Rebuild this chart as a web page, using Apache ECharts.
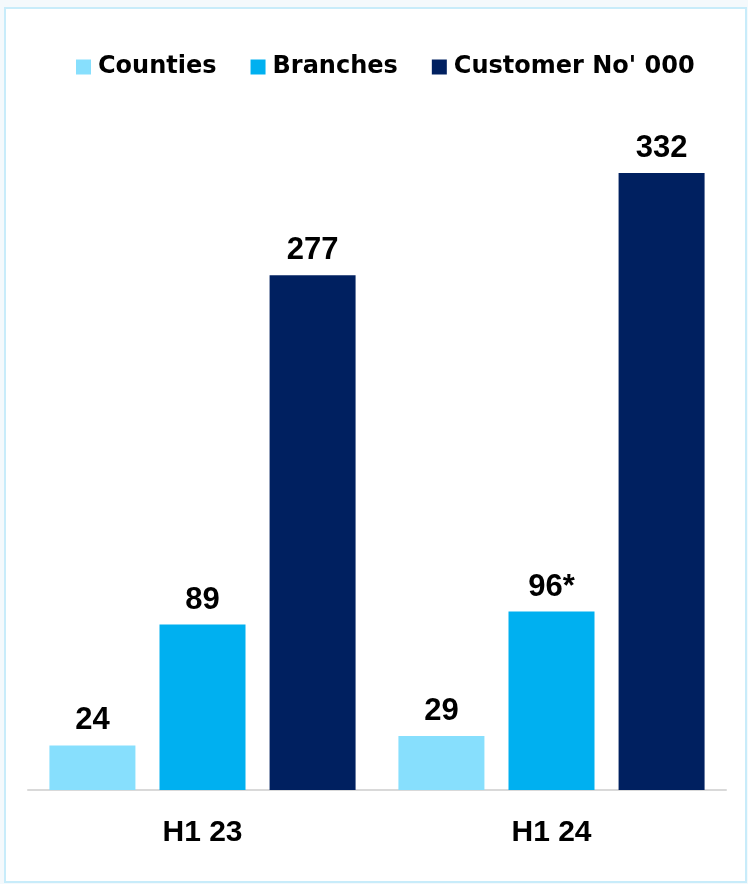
<!DOCTYPE html>
<html>
<head>
<meta charset="utf-8">
<script src="https://cdn.jsdelivr.net/npm/echarts@6/dist/echarts.min.js"></script>
<style>
  html, body { margin: 0; padding: 0; background: #f4f9fc; }
  #chart { width: 748px; height: 884px; }
</style>
</head>
<body>
<div id="chart"></div>
<script>
// Half-year periods
const periods = ['H1 23', 'H1 24'];

// Footprint and customer figures per period
const counties = [24, 29];
const branches = [89, 96];
const customers = [277, 332];

// Footnote markers appended to the branch figures
const branchNotes = ['', '*'];

const seriesNames = ['Counties', 'Branches', "Customer No' 000"];
const seriesColors = ['#87dffd', '#00b0f0', '#002060'];

const labelStyle = {
  show: true,
  position: 'top',
  distance: 9,
  color: '#000',
  fontFamily: 'Liberation Sans, Arial, sans-serif',
  fontWeight: 'bold',
  fontSize: 31
};

const chart = echarts.init(document.getElementById('chart'), null, { renderer: 'canvas' });

chart.setOption({
  backgroundColor: '#f4f9fc',
  animation: false,
  graphic: [{
    type: 'rect',
    z: -10,
    shape: { x: 5, y: 8, width: 741, height: 874 },
    style: { fill: '#ffffff', stroke: '#c8ecfa', lineWidth: 2 }
  }],
  legend: {
    left: 71,
    top: 50,
    itemWidth: 15,
    itemHeight: 15,
    itemGap: 34,
    icon: 'rect',
    textStyle: {
      fontFamily: 'DejaVu Sans, sans-serif',
      fontWeight: 'bold',
      fontSize: 24,
      color: '#000',
      padding: [0, 0, 0, 2]
    },
    data: seriesNames
  },
  grid: { left: 28, right: 22, top: 139.5, bottom: 94 },
  xAxis: {
    type: 'category',
    data: periods,
    axisTick: { show: false },
    axisLine: { lineStyle: { color: '#d9d9d9', width: 2 } },
    axisLabel: {
      margin: 28,
      color: '#000',
      fontFamily: 'Liberation Sans, Arial, sans-serif',
      fontWeight: 'bold',
      fontSize: 30
    }
  },
  yAxis: {
    type: 'value',
    min: 0,
    max: 350,
    show: false,
    splitLine: { show: false }
  },
  series: [
    {
      name: seriesNames[0],
      type: 'bar',
      data: counties,
      barWidth: 86,
      barGap: '28%',
      itemStyle: { color: seriesColors[0] },
      label: labelStyle
    },
    {
      name: seriesNames[1],
      type: 'bar',
      data: branches,
      barWidth: 86,
      barGap: '28%',
      itemStyle: { color: seriesColors[1] },
      label: Object.assign({}, labelStyle, {
        formatter: p => p.value + branchNotes[p.dataIndex]
      })
    },
    {
      name: seriesNames[2],
      type: 'bar',
      data: customers,
      barWidth: 86,
      barGap: '28%',
      itemStyle: { color: seriesColors[2] },
      label: labelStyle
    }
  ]
});
</script>
</body>
</html>
